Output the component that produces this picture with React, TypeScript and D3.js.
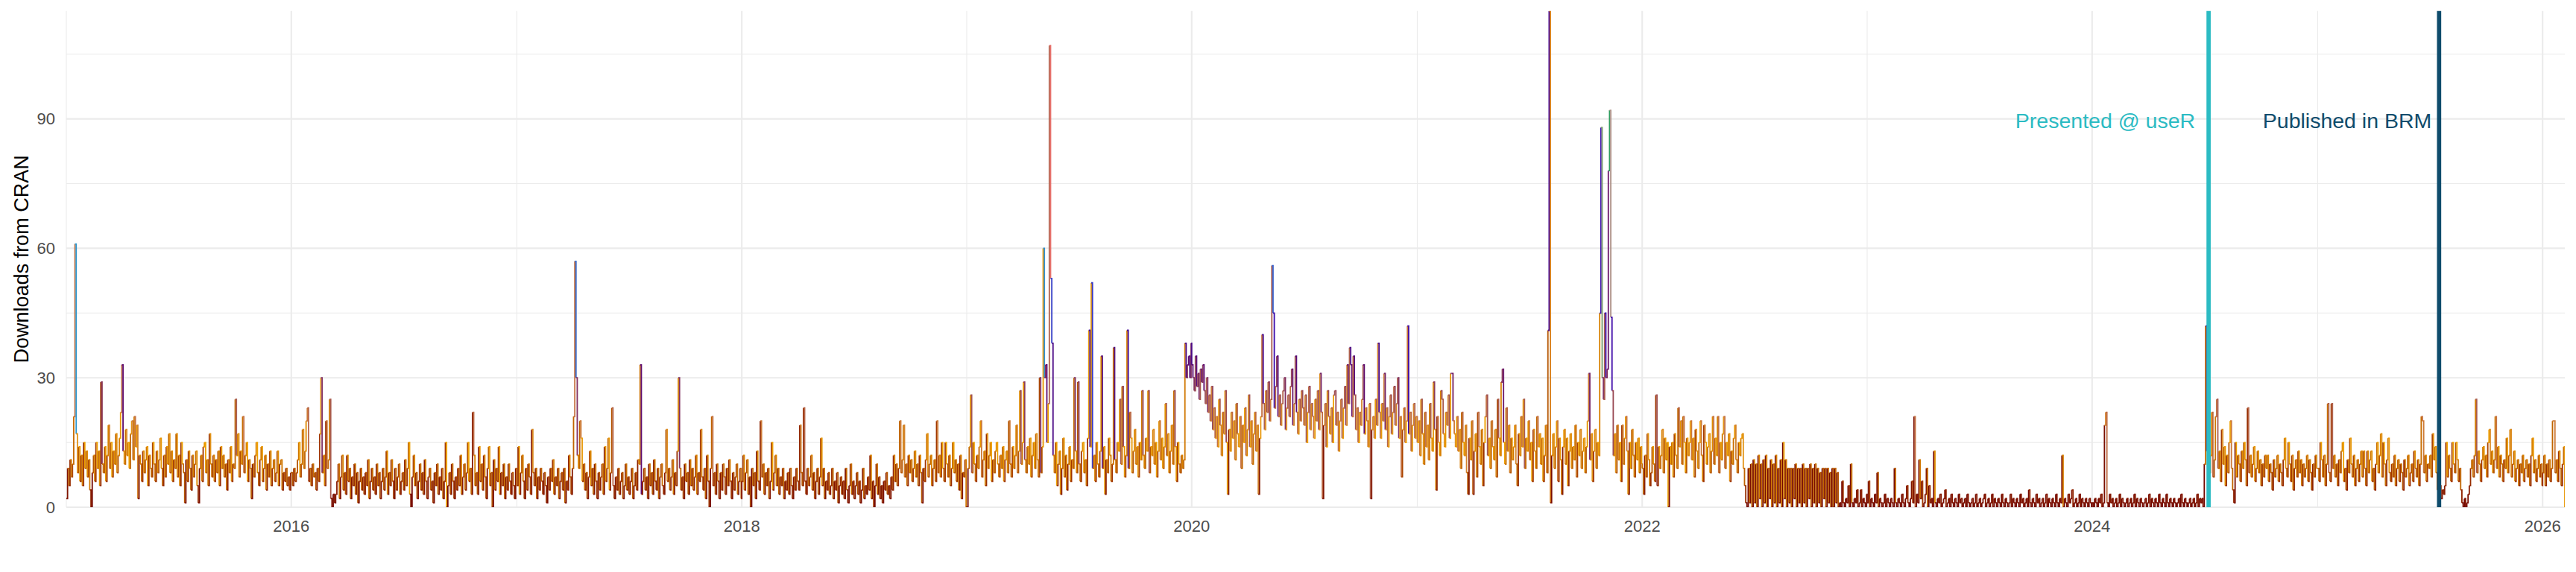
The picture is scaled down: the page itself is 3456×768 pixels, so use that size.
import React from "react";
import * as d3 from "d3";

// ---------- DATA (downloads per 2-day step, starting Jan 1 of each year) ----------
const d2015 = [
  2, 9, 5, 11, 7, 10, 21, 61, 17, 8, 14, 6, 12, 5, 15, 9, 13, 7, 11, 4, 0, 8, 12, 6, 15, 9, 13, 5, 29, 10,
  8, 14, 6, 12, 19, 9, 15, 7, 13, 10, 17, 8, 12, 16, 22, 33, 13, 10, 18, 12, 15, 9, 17, 20, 11, 21, 14, 19, 2, 12,
  10, 6, 13, 8, 11, 14, 5, 12, 9, 7, 15, 10, 6, 13, 8, 11, 16, 9, 5, 12, 7, 14, 10, 17, 8, 13, 6, 11, 9, 17,
  7, 12, 5, 15, 10, 8, 1, 11, 6, 13, 9, 4, 12, 7, 10, 13, 5, 1, 9, 12, 6, 14, 15, 8, 11, 5, 17, 10, 7, 12,
  6, 11, 8, 13, 5, 14, 9, 12, 7, 10, 4, 11, 8, 14, 6, 10, 9, 25, 12, 17, 7, 13, 10, 21, 8, 12, 15, 6, 11, 9,
  2, 10, 7, 12, 15, 8, 5, 11, 14, 6, 9, 12, 4, 10, 7, 13, 5, 9, 11, 6, 8, 13, 5, 10, 11, 4, 8, 6, 9, 5,
  7, 4, 8,
];
const d2016 = [
  8, 5, 9, 6, 8, 11, 15, 7, 10, 18, 9, 13, 20, 23, 6, 9, 5, 10, 7, 8, 4, 9, 6, 17, 30, 8, 12, 5, 20, 9,
  11, 25, 2, 0, 3, 1, 3, 6, 10, 2, 7, 12, 4, 8, 3, 12, 6, 9, 2, 7, 5, 10, 3, 8, 1, 6, 9, 4, 7, 3,
  8, 5, 11, 2, 6, 9, 4, 7, 3, 10, 5, 8, 2, 6, 9, 4, 7, 13, 3, 8, 5, 11, 6, 2, 9, 4, 7, 10, 3, 6,
  8, 4, 11, 5, 9, 15, 3, 0, 7, 12, 5, 8, 2, 6, 10, 4, 8, 3, 11, 6, 2, 7, 9, 4, 6, 1, 8, 5, 10, 3,
  7, 4, 9, 2, 6, 15, 0, 5, 8, 3, 10, 6, 2, 7, 4, 9, 5, 12, 3, 7, 10, 4, 8, 15, 6, 9, 3, 22, 12, 5,
  8, 3, 14, 6, 10, 4, 12, 7, 2, 9, 14, 5, 8, 0, 11, 4, 9, 6, 14, 3, 8, 5, 10, 2, 7, 4, 10, 6, 3, 8,
  5, 2, 9,
];
const d2017 = [
  5, 14, 3, 8, 12, 6, 2, 9, 4, 10, 7, 3, 18, 8, 5, 9, 2, 7, 4, 9, 6, 3, 8, 5, 1, 7, 4, 9, 6, 11,
  3, 7, 5, 9, 2, 6, 8, 4, 9, 1, 6, 4, 12, 7, 3, 9, 21, 57, 30, 12, 9, 20, 16, 6, 10, 4, 8, 2, 7, 13,
  5, 9, 3, 10, 6, 2, 8, 4, 7, 10, 3, 14, 6, 9, 16, 4, 8, 23, 5, 2, 7, 4, 9, 3, 6, 8, 2, 5, 10, 4,
  7, 3, 6, 9, 2, 5, 8, 4, 11, 10, 33, 3, 6, 9, 4, 7, 2, 10, 5, 8, 3, 11, 6, 4, 9, 2, 7, 10, 5, 3,
  8, 18, 6, 9, 4, 7, 11, 3, 8, 5, 13, 30, 9, 4, 7, 2, 10, 6, 8, 3, 11, 5, 9, 4, 7, 12, 3, 8, 6, 18,
  7, 4, 9, 2, 12, 6, 0, 9, 21, 5, 8, 3, 10, 6, 2, 8, 4, 10, 7, 3, 9, 5, 11, 6, 2, 8, 4, 7, 10, 3,
  6, 9, 2,
];
const d2018 = [
  6, 12, 4, 8, 11, 3, 7, 0, 9, 5, 8, 2, 13, 6, 4, 20, 7, 10, 3, 8, 5, 9, 2, 6, 15, 4, 8, 12, 5, 9,
  3, 7, 5, 9, 2, 6, 4, 8, 3, 9, 5, 2, 7, 4, 9, 6, 4, 19, 8, 5, 23, 6, 3, 9, 5, 7, 12, 4, 8, 2,
  6, 9, 3, 7, 16, 5, 9, 2, 6, 4, 8, 3, 5, 9, 2, 6, 4, 8, 1, 5, 7, 3, 6, 2, 9, 4, 1, 5, 10, 3,
  6, 2, 5, 8, 3, 6, 1, 4, 9, 2, 5, 3, 7, 4, 12, 2, 6, 0, 5, 10, 3, 7, 2, 5, 1, 6, 4, 8, 3, 5,
  2, 7, 4, 12, 6, 10, 5, 9, 20, 8, 11, 19, 7, 10, 5, 12, 8, 11, 6, 9, 13, 7, 10, 5, 12, 8, 1, 9, 6, 11,
  17, 7, 10, 12, 5, 9, 11, 6, 20, 8, 12, 7, 15, 9, 6, 15, 10, 7, 12, 5, 9, 15, 8, 11, 6, 10, 4, 12, 2, 8,
  7, 11, 0,
];
const d2019 = [
  0, 9, 14, 26, 8, 15, 10, 6, 12, 9, 14, 20, 7, 11, 13, 5, 17, 9, 12, 15, 6, 11, 8, 13, 15, 10, 7, 12, 9, 14,
  6, 11, 13, 8, 20, 10, 7, 14, 9, 12, 19, 8, 13, 27, 10, 15, 29, 11, 8, 14, 10, 16, 7, 12, 15, 9, 17, 11, 7, 30,
  8, 14, 60, 30, 33, 15, 24, 107, 53, 38, 12, 8, 15, 5, 10, 13, 3, 9, 16, 7, 12, 4, 10, 14, 6, 11, 9, 30, 13, 8,
  29, 10, 6, 13, 15, 8, 11, 5, 16, 41, 14, 52, 9, 12, 6, 15, 10, 7, 13, 35, 9, 14, 3, 11, 8, 16, 12, 6, 10, 37,
  11, 8, 15, 13, 25, 10, 28, 14, 7, 12, 41, 9, 22, 16, 8, 13, 18, 10, 14, 7, 15, 11, 27, 12, 9, 16, 13, 27, 8, 14,
  12, 18, 10, 15, 7, 13, 20, 11, 16, 9, 14, 24, 12, 17, 8, 13, 19, 10, 27, 14, 6, 15, 10, 8, 12, 9, 11, 38, 30, 33,
  35, 30, 38,
];
const d2020 = [
  33, 30, 27, 35, 28, 31, 25, 32, 29, 33, 27, 24, 30, 22, 26, 20, 28, 18, 23, 16, 21, 14, 25, 19, 12, 22, 17, 27, 15, 3,
  18, 13, 22, 16, 20, 11, 24, 17, 14, 21, 9, 19, 15, 23, 12, 18, 26, 14, 20, 10, 17, 22, 13, 19, 3, 16, 21, 40, 24, 18,
  27, 22, 29, 20, 25, 56, 45, 23, 28, 35, 21, 26, 19, 24, 27, 30, 18, 23, 26, 21, 28, 32, 19, 24, 35, 22, 17, 25, 20, 27,
  23, 19, 26, 15, 22, 28, 18, 24, 21, 16, 25, 20, 27, 18, 31, 22, 2, 19, 24, 14, 27, 21, 17, 23, 15, 26, 27, 19, 22, 13,
  20, 25, 16, 23, 28, 19, 33, 24, 37, 33, 21, 35, 26, 18, 23, 15, 22, 19, 25, 33, 17, 23, 20, 14, 24, 2, 18, 21, 16, 25,
  19, 38, 22, 16, 24, 20, 31, 18, 23, 14, 21, 26, 17, 22, 28, 19, 24, 30, 16, 21, 7, 18, 23, 15, 20, 42, 17, 22, 13, 19,
  24, 16, 21,
];
const d2021 = [
  15, 20, 12, 25, 17, 10, 22, 14, 19, 11, 24, 16, 13, 29, 18, 4, 21, 15, 12, 27, 25, 17, 14, 22, 19, 26, 16, 31, 31, 20,
  17, 14, 21, 13, 18, 9, 22, 15, 12, 19, 8, 3, 16, 11, 20, 3, 13, 17, 7, 22, 14, 10, 18, 5, 15, 21, 26, 12, 16, 9,
  20, 14, 11, 18, 7, 25, 16, 12, 29, 32, 15, 10, 23, 13, 19, 8, 16, 11, 14, 19, 10, 5, 17, 12, 21, 14, 25, 9, 16, 13,
  20, 11, 15, 6, 18, 13, 9, 21, 14, 17, 10, 16, 6, 12, 19, 8, 41, 115, 1, 12, 17, 9, 14, 20, 6, 16, 11, 3, 14, 18,
  10, 16, 5, 13, 17, 9, 14, 11, 19, 7, 15, 12, 18, 9, 13, 16, 8, 14, 20, 31, 11, 17, 6, 13, 18, 9, 15, 12, 45, 88,
  30, 25, 45, 30, 32, 78, 92, 44, 27, 12, 17, 8, 19, 11, 15, 6, 19, 10, 16, 21, 13, 3, 15, 9, 18, 12, 7, 15, 11, 16,
  8, 14, 10,
];
const d2022 = [
  9, 3, 12, 7, 17, 11, 5, 8, 14, 10, 6, 26, 5, 14, 9, 12, 18, 8, 16, 11, 15, 0, 14, 10, 15, 7, 17, 12, 9, 23,
  14, 20, 10, 21, 15, 8, 16, 12, 15, 20, 11, 16, 7, 18, 13, 9, 15, 20, 12, 6, 19, 15, 10, 14, 17, 8, 13, 21, 10, 16,
  12, 21, 8, 15, 11, 17, 21, 9, 15, 12, 17, 6, 13, 10, 16, 19, 11, 8, 15, 12, 16, 17, 9, 5, 1, 0, 9, 1, 10, 0,
  11, 1, 10, 0, 12, 2, 10, 0, 11, 1, 12, 0, 9, 2, 11, 0, 10, 1, 12, 0, 9, 1, 11, 0, 15, 2, 11, 0, 9, 1,
  9, 0, 9, 2, 10, 0, 9, 1, 9, 0, 10, 1, 9, 0, 9, 2, 10, 0, 9, 1, 10, 0, 9, 1, 8, 0, 9, 2, 9, 0,
  9, 1, 8, 0, 9, 0, 9, 1, 8, 0, 1, 0, 6, 1, 0, 2, 1, 5, 0, 10, 1, 0, 2, 1, 4, 0, 1, 4, 0, 2,
  1, 0, 3,
];
const d2023 = [
  1, 6, 0, 2, 1, 0, 3, 1, 8, 0, 2, 1, 0, 1, 3, 0, 2, 1, 0, 2, 1, 0, 9, 1, 0, 2, 1, 0, 3, 1,
  0, 2, 5, 1, 0, 2, 6, 1, 21, 0, 3, 1, 11, 2, 6, 0, 1, 3, 9, 0, 5, 1, 2, 0, 13, 1, 0, 2, 1, 3,
  0, 1, 2, 4, 0, 1, 2, 0, 3, 1, 0, 2, 1, 0, 3, 1, 2, 0, 1, 2, 0, 3, 1, 0, 1, 2, 0, 1, 3, 0,
  1, 2, 0, 1, 2, 3, 0, 1, 2, 0, 1, 3, 0, 2, 1, 0, 2, 1, 0, 3, 1, 0, 2, 1, 0, 1, 3, 0, 2, 1,
  0, 2, 1, 0, 3, 1, 2, 0, 1, 2, 0, 4, 1, 0, 2, 1, 0, 3, 1, 2, 0, 1, 2, 0, 1, 3, 0, 2, 1, 0,
  2, 1, 0, 3, 1, 0, 2, 1, 12, 0, 2, 1, 0, 3, 1, 2, 4, 0, 1, 2, 0, 1, 3, 0, 2, 1, 0, 2, 1, 0,
  2, 1, 0,
];
const d2024 = [
  1, 0, 2, 1, 0, 2, 1, 3, 0, 1, 19, 22, 1, 0, 3, 1, 2, 0, 1, 2, 0, 1, 3, 0, 2, 1, 0, 1, 2, 0,
  1, 2, 0, 1, 3, 0, 2, 1, 0, 2, 1, 0, 1, 2, 0, 1, 3, 0, 2, 1, 0, 2, 1, 0, 3, 1, 0, 2, 1, 0,
  3, 1, 0, 2, 1, 0, 2, 1, 0, 1, 2, 0, 3, 1, 0, 2, 1, 0, 1, 2, 0, 1, 2, 0, 1, 3, 0, 2, 1, 2,
  0, 10, 42, 13, 14, 8, 12, 22, 7, 11, 21, 25, 9, 13, 6, 18, 10, 14, 5, 12, 8, 15, 20, 9, 4, 1, 15, 7, 12, 10,
  6, 13, 9, 15, 11, 5, 23, 8, 12, 7, 10, 14, 6, 9, 13, 8, 11, 5, 10, 7, 12, 9, 12, 6, 10, 8, 4, 11, 7, 9,
  12, 6, 10, 8, 5, 11, 16, 9, 7, 15, 10, 6, 12, 4, 9, 11, 7, 13, 8, 11, 5, 10, 7, 9, 12, 6, 11, 8, 4, 10,
  7, 12, 9,
];
const d2025 = [
  9, 6, 15, 11, 7, 12, 5, 10, 24, 8, 6, 24, 9, 12, 7, 10, 5, 11, 8, 13, 15, 6, 9, 4, 11, 8, 16, 10, 7, 12,
  5, 9, 11, 6, 10, 13, 7, 13, 9, 5, 13, 8, 11, 13, 6, 9, 4, 10, 15, 8, 12, 17, 7, 15, 10, 5, 11, 16, 8, 6,
  10, 7, 12, 5, 9, 11, 6, 10, 8, 4, 11, 7, 9, 12, 5, 8, 10, 6, 13, 9, 7, 11, 5, 10, 21, 20, 8, 12, 6, 10,
  9, 12, 7, 17, 11, 14, 8, 4, 3, 5, 2, 4, 3, 5, 15, 7, 12, 9, 6, 15, 10, 8, 15, 11, 6, 9, 4, 1, 0, 2,
  0, 1, 3, 5, 9, 11, 7, 12, 25, 8, 13, 10, 6, 11, 14, 9, 12, 7, 15, 18, 10, 13, 8, 11, 21, 9, 14, 7, 12, 10,
  6, 11, 9, 16, 8, 12, 18, 7, 10, 13, 6, 9, 11, 5, 10, 8, 12, 6, 9, 11, 7, 10, 5, 12, 16, 8, 11, 6, 9, 12,
  7, 10, 5,
];
const d2026 = [8, 12, 5, 10, 7, 11, 6, 9, 20, 20, 8, 11, 6, 13, 9, 5, 10, 14, 0];

const years = [2015, 2016, 2017, 2018, 2019, 2020, 2021, 2022, 2023, 2024, 2025, 2026];
const yearValues = [d2015, d2016, d2017, d2018, d2019, d2020, d2021, d2022, d2023, d2024, d2025, d2026];
const stepDays = 2;
const startDate = "2015-01-01";
const endDate = "2026-02-06";

const yTicks = [0, 30, 60, 90];
const yMinorTicks = [15, 45, 75, 105];
const xMajorYears = [2016, 2018, 2020, 2022, 2024, 2026];
const xMinorYears = [2015, 2017, 2019, 2021, 2023, 2025];
const yMax = 115;

const eventDates = ["2024-07-08", "2025-07-17"];
const eventLabels = ["Presented @ useR", "Published in BRM"];
const eventColors = ["#2BBBC3", "#0F4C6C"];
const eventLabelValue = 90;

// value -> colour stops
const colorStops = [0, 3, 6, 9, 12, 15, 18, 21, 25, 29, 33, 38, 44, 50, 56, 61, 70, 78, 88, 92, 107, 115];
const colorRange = [
  "#740800", "#861A00", "#A03600", "#C06400", "#D88000", "#EEA000", "#DC8C22", "#C47040",
  "#A85A4E", "#8C3C5C", "#5E0A6E", "#4B0A86", "#3D08A8", "#3520C0", "#3A64D0", "#2E98D0",
  "#2E9C9A", "#2E9A5C", "#7C9C70", "#AE9288", "#E8706A", "#D87A10",
];

// ---------- LAYOUT ----------
const W = 3456;
const H = 768;
const panel = { left: 89, right: 3441, top: 14.8, bottom: 681 };
const FONT = "'Liberation Sans', Arial, Helvetica, sans-serif";

export default function App() {
  const parse = d3.utcParse("%Y-%m-%d");
  const x = d3.scaleUtc().domain([parse(startDate)!, parse(endDate)!]).range([panel.left, panel.right]);
  const y = d3.scaleLinear().domain([0, yMax]).range([panel.bottom, panel.top]);
  const color = d3
    .scaleLinear<string>()
    .domain(colorStops)
    .range(colorRange)
    .interpolate(d3.interpolateRgb)
    .clamp(true);

  const points: { date: Date; v: number }[] = [];
  years.forEach((yr, i) => {
    yearValues[i].forEach((v, k) => {
      points.push({ date: new Date(Date.UTC(yr, 0, 1 + k * stepDays)), v });
    });
  });

  const xEnd = x(parse(endDate)!);
  const segs = points.map((p, i) => {
    const x0 = x(p.date);
    const y0 = y(p.v);
    const next = points[i + 1];
    const d = next ? `M${x0},${y0}H${x(next.date)}V${y(next.v)}` : `M${x0},${y0}H${xEnd}`;
    return { d, c: color(p.v) };
  });

  const gridColor = "#EBEBEB";

  return (
    <svg
      width={W}
      height={H}
      viewBox={`0 0 ${W} ${H}`}
      style={{ position: "absolute", left: 0, top: 0, background: "#fff" }}
    >
      <defs>
        <clipPath id="panelClip">
          <rect x={panel.left} y={panel.top} width={panel.right - panel.left} height={panel.bottom - panel.top} />
        </clipPath>
      </defs>
      <rect x={0} y={0} width={W} height={H} fill="#fff" />
      {/* minor grid */}
      {yMinorTicks.map((t) => (
        <line key={"ym" + t} x1={panel.left} x2={panel.right} y1={y(t)} y2={y(t)} stroke={gridColor} strokeWidth={1.1} />
      ))}
      {xMinorYears.map((yr) => {
        const xx = x(new Date(Date.UTC(yr, 0, 1)));
        return <line key={"xm" + yr} x1={xx} x2={xx} y1={panel.top} y2={panel.bottom} stroke={gridColor} strokeWidth={1.1} />;
      })}
      {/* major grid */}
      {yTicks.map((t) => (
        <line key={"yM" + t} x1={panel.left} x2={panel.right} y1={y(t)} y2={y(t)} stroke={gridColor} strokeWidth={2.1} />
      ))}
      {xMajorYears.map((yr) => {
        const xx = x(new Date(Date.UTC(yr, 0, 1)));
        return <line key={"xM" + yr} x1={xx} x2={xx} y1={panel.top} y2={panel.bottom} stroke={gridColor} strokeWidth={2.1} />;
      })}

      {/* data */}
      <g clipPath="url(#panelClip)" fill="none" strokeWidth={1.8} strokeLinecap="butt" strokeLinejoin="miter">
        {segs.map((s, i) => (
          <path key={i} d={s.d} stroke={s.c} />
        ))}
      </g>

      {/* event lines */}
      {eventDates.map((ds, i) => {
        const xx = x(parse(ds)!);
        return (
          <g key={ds}>
            <line x1={xx} x2={xx} y1={panel.top} y2={panel.bottom} stroke={eventColors[i]} strokeWidth={5.7} />
            <text
              x={xx - (i === 0 ? 18 : 10)}
              y={y(eventLabelValue) + 2}
              textAnchor="end"
              dominantBaseline="central"
              fontFamily={FONT}
              fontSize={28.5}
              fill={eventColors[i]}
            >
              {eventLabels[i]}
            </text>
          </g>
        );
      })}

      {/* y tick labels */}
      {yTicks.map((t) => (
        <text
          key={"yl" + t}
          x={74}
          y={y(t)}
          textAnchor="end"
          dominantBaseline="central"
          fontFamily={FONT}
          fontSize={22}
          fill="#4D4D4D"
        >
          {t}
        </text>
      ))}
      {/* x tick labels */}
      {xMajorYears.map((yr) => (
        <text
          key={"xl" + yr}
          x={x(new Date(Date.UTC(yr, 0, 1)))}
          y={714}
          textAnchor="middle"
          fontFamily={FONT}
          fontSize={22}
          fill="#4D4D4D"
        >
          {yr}
        </text>
      ))}
      {/* y axis title */}
      <text
        transform={`translate(38, ${(panel.top + panel.bottom) / 2}) rotate(-90)`}
        textAnchor="middle"
        fontFamily={FONT}
        fontSize={27}
        fill="#000"
      >
        Downloads from CRAN
      </text>
    </svg>
  );
}
